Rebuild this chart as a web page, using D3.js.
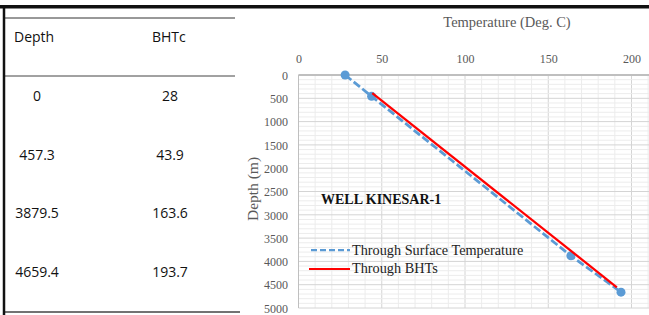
<!DOCTYPE html>
<html>
<head>
<meta charset="utf-8">
<script src="https://cdn.jsdelivr.net/npm/d3@7"></script>
<style>
  body { margin: 0; background: #fff; }
  svg { display: block; }
  .tbl text { font-family: "Open Sans", sans-serif; font-size: 14px; fill: #111; }
  .chart text { font-family: "Liberation Serif", serif; }
  .axis text { font-size: 12px; fill: #595959; }
  .axis path, .axis line { display: none; }
</style>
</head>
<body>
<div id="chart"></div>
<script>
// table data
const depths = [0, 457.3, 3879.5, 4659.4];
const bhtc = [28, 43.9, 163.6, 193.7];
const depthLabels = ['0', '457.3', '3879.5', '4659.4'];
const bhtcLabels = ['28', '43.9', '163.6', '193.7'];

// lines
const surfaceTemp = [28, 43.9, 163.6, 193.7];
const surfaceDepth = [0, 457.3, 3879.5, 4659.4];
const bhtTemp = [44.3, 191.2];
const bhtDepth = [390, 4555];

const xTicks = [0, 50, 100, 150, 200];
const yTicks = [0, 500, 1000, 1500, 2000, 2500, 3000, 3500, 4000, 4500, 5000];

const W = 649, H = 315;
const svg = d3.select('#chart').append('svg')
  .attr('width', W).attr('height', H);

// ---------- left table ----------
const tbl = svg.append('g').attr('class', 'tbl');
const rowY = d3.scalePoint().domain(d3.range(depths.length)).range([96, 272]);

tbl.append('line').attr('x1', 5).attr('x2', 235).attr('y1', 18).attr('y2', 18)
   .attr('stroke', '#333').attr('stroke-width', 1);
tbl.append('line').attr('x1', 5).attr('x2', 235).attr('y1', 76).attr('y2', 76)
   .attr('stroke', '#444').attr('stroke-width', 1);
tbl.append('line').attr('x1', 3).attr('x2', 240).attr('y1', 312).attr('y2', 312)
   .attr('stroke', '#444').attr('stroke-width', 1.5);
tbl.append('line').attr('x1', 4).attr('x2', 4).attr('y1', 6).attr('y2', H)
   .attr('stroke', '#111').attr('stroke-width', 2.5);

tbl.append('text').attr('x', 14).attr('y', 42).text('Depth');
tbl.append('text').attr('x', 152).attr('y', 42).text('BHTc');

tbl.selectAll('.dep').data(depthLabels).join('text')
   .attr('x', 37).attr('y', (d, i) => rowY(i) + 5)
   .attr('text-anchor', 'middle').text(d => d);
tbl.selectAll('.bht').data(bhtcLabels).join('text')
   .attr('x', 170).attr('y', (d, i) => rowY(i) + 5)
   .attr('text-anchor', 'middle').text(d => d);

// top black rule across the page
svg.append('rect').attr('x', 0).attr('y', 5).attr('width', W).attr('height', 3.5)
   .attr('fill', '#111');

// ---------- chart ----------
const g = svg.append('g').attr('class', 'chart');
const x0 = 298.5, pxPerDeg = 1.665;
const x = d3.scaleLinear().domain([0, 250]).range([x0, x0 + 250 * pxPerDeg]);
const y = d3.scaleLinear().domain([0, 5000]).range([75, 308]);

// minor grid
g.append('g').selectAll('line').data(d3.range(0, 251, 10)).join('line')
  .attr('x1', d => x(d)).attr('x2', d => x(d)).attr('y1', y(0)).attr('y2', y(5000))
  .attr('stroke', d => d % 50 === 0 ? '#d4d4d4' : '#ececec').attr('stroke-width', 1);
g.append('g').selectAll('line').data(d3.range(0, 5001, 100)).join('line')
  .attr('x1', x(0)).attr('x2', W).attr('y1', d => y(d)).attr('y2', d => y(d))
  .attr('stroke', d => d % 500 === 0 ? '#d4d4d4' : '#ececec').attr('stroke-width', 1);

// axis lines
g.append('line').attr('x1', x(0)).attr('x2', W).attr('y1', y(0)).attr('y2', y(0))
  .attr('stroke', '#bfbfbf').attr('stroke-width', 2);
g.append('line').attr('x1', x(0)).attr('x2', x(0)).attr('y1', y(0)).attr('y2', y(5000))
  .attr('stroke', '#bfbfbf').attr('stroke-width', 1);

// axes
g.append('g').attr('class', 'axis')
  .attr('transform', 'translate(0, 63)')
  .call(d3.axisTop(x).tickValues(xTicks).tickSize(0).tickPadding(0));
g.append('g').attr('class', 'axis')
  .attr('transform', 'translate(288, 0)')
  .call(d3.axisLeft(y).tickValues(yTicks).tickFormat(d3.format('d'))
    .tickSize(0).tickPadding(0))
  .selectAll('text').attr('dy', '0.35em');

g.append('text').attr('x', 507).attr('y', 27).attr('text-anchor', 'middle')
  .attr('font-size', 14.5).attr('fill', '#595959').text('Temperature (Deg. C)');
g.append('text').attr('transform', 'translate(258, 189) rotate(-90)')
  .attr('text-anchor', 'middle').attr('font-size', 15.5).attr('fill', '#595959')
  .text('Depth (m)');

// lines
const line = d3.line().x(d => x(d[0])).y(d => y(d[1]));
const surf = d3.zip(surfaceTemp, surfaceDepth);
const bht = d3.zip(bhtTemp, bhtDepth);

g.append('path').datum(surf).attr('d', line)
  .attr('fill', 'none').attr('stroke', '#5b9bd5').attr('stroke-width', 2.75)
  .attr('stroke-dasharray', '8,3');
g.append('g').selectAll('circle').data(surf).join('circle')
  .attr('cx', d => x(d[0])).attr('cy', d => y(d[1])).attr('r', 4.5)
  .attr('fill', '#5b9bd5');
g.append('path').datum(bht).attr('d', line)
  .attr('fill', 'none').attr('stroke', '#ff0000').attr('stroke-width', 2.25);

// well name
g.append('text').attr('x', 321).attr('y', 204).attr('font-size', 14)
  .attr('font-weight', 'bold').attr('fill', '#111').text('WELL KINESAR-1');

// legend
const legend = g.append('g');
legend.append('line').attr('x1', 311).attr('x2', 350).attr('y1', 250).attr('y2', 250)
  .attr('stroke', '#5b9bd5').attr('stroke-width', 2.25).attr('stroke-dasharray', '6,3');
legend.append('line').attr('x1', 309).attr('x2', 350).attr('y1', 269).attr('y2', 269)
  .attr('stroke', '#ff0000').attr('stroke-width', 2);
legend.append('text').attr('x', 352).attr('y', 255).attr('font-size', 14.25)
  .attr('fill', '#222').text('Through Surface Temperature');
legend.append('text').attr('x', 352).attr('y', 273).attr('font-size', 14.25)
  .attr('fill', '#222').text('Through BHTs');
</script>
</body>
</html>
